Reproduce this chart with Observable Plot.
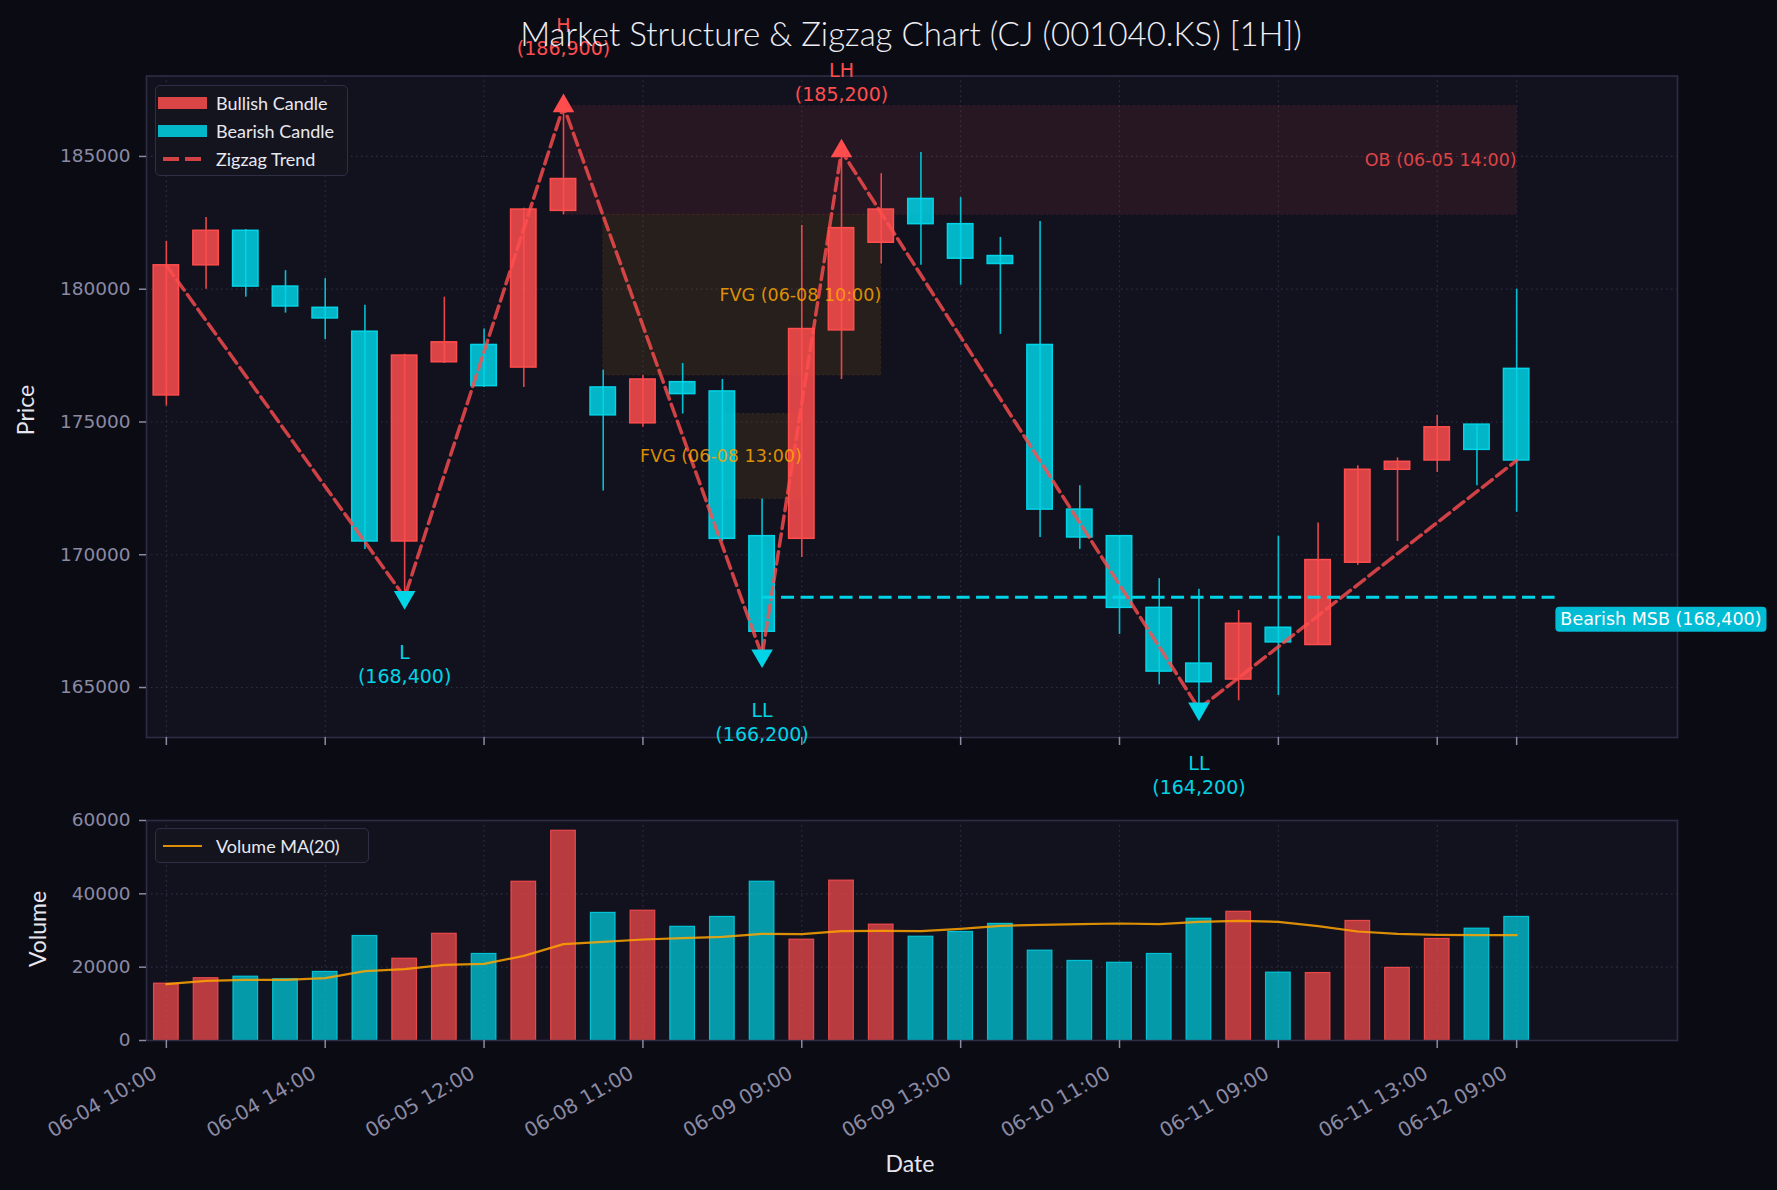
<!DOCTYPE html>
<html><head><meta charset="utf-8">
<script src="https://cdn.jsdelivr.net/npm/d3@7"></script>
<script src="https://cdn.jsdelivr.net/npm/@observablehq/plot@0.6"></script>
<style>
html,body{margin:0;padding:0;background:#0b0b14;overflow:hidden;}
#wrap{position:relative;width:1777px;height:1190px;background:#0b0b14;overflow:hidden;}
#wrap > *{position:absolute;}
.title{left:0;width:1822px;top:13px;text-align:center;font-family:Lato,sans-serif;font-weight:300;font-size:33px;color:#eeeef4;white-space:nowrap;}
.axlab{font-family:Lato,sans-serif;font-size:23px;color:#e6e6ee;white-space:nowrap;transform:translate(-50%,-50%);}
.legend{border:1.5px solid #2e2e46;border-radius:5px;background:#14141f;font-family:Lato,sans-serif;font-size:18px;color:#e8e8f0;box-sizing:border-box;}
.legend .row{position:absolute;left:60px;white-space:nowrap;transform:translateY(-50%);}
.legend .sw{position:absolute;}
</style></head>
<body><div id="wrap"></div>
<script>
// ---------- data ----------
const tickIdx    = [0, 4, 8, 12, 16, 20, 24, 28, 32, 34];
const tickLabels = ["06-04 10:00","06-04 14:00","06-05 12:00","06-08 11:00","06-09 09:00","06-09 13:00","06-10 11:00","06-11 09:00","06-11 13:00","06-12 09:00"];
const open  = [176000,180900,182200,180100,179300,178400,170500,177250,177900,177050,182950,176300,174950,176500,176150,170700,170600,178450,181750,183400,182450,181250,177900,171700,170700,168000,165900,165300,167250,166600,169700,173200,173550,174900,177000];
const high  = [181800,182700,182250,180700,180400,179400,177550,179700,178500,183050,186900,176950,176750,177200,176600,172100,182400,185200,184350,185150,183450,181950,182550,172600,170700,169100,168700,167900,170700,171200,173350,173650,175250,174900,180000];
const low   = [175600,180000,179700,179100,178100,170200,168400,177200,176300,176300,182800,172400,174800,175300,170500,166200,169900,176600,180950,180900,180150,178300,170650,170200,167000,165100,164200,164500,164700,166600,169600,170500,173100,172600,171600];
const close = [180900,182200,180100,179350,178900,170500,177500,178000,176350,183000,184150,175250,176600,176050,170600,167100,178500,182300,183000,182450,181150,180950,171700,170650,168000,165600,165200,167400,166700,169800,173200,173500,174800,173950,173550];
const volume = [15500,17000,17400,16700,18700,28500,22300,29100,23600,43300,57200,34800,35400,31000,33700,43300,27500,43600,31600,28300,29600,31800,24500,21700,21200,23600,33200,35100,18500,18400,32600,19800,27700,30500,33700];
const volumeMA = [15360,16270,16550,16550,17000,18900,19450,20640,20910,23090,26270,26910,27550,27910,28270,29090,29000,29820,29910,29820,30450,31270,31550,31730,31910,31730,32360,32640,32360,31180,29730,29090,28820,28730,28730];

const zigIdx   = [0, 6, 10, 15, 17, 26, 34];
const zigPrice = [180900, 168400, 186900, 166200, 185200, 164200, 173550];

const swingIdx   = [6, 10, 15, 17, 26];
const swingPrice = [168400, 186900, 166200, 185200, 164200];
const swingLabel = ["L", "H", "LL", "LH", "LL"];
const swingHigh  = [false, true, false, true, false];

const zoneLabel  = ["OB (06-05 14:00)", "FVG (06-08 10:00)", "FVG (06-08 13:00)"];
const zoneKind   = ["OB", "FVG", "FVG"];
const zoneStart  = [10, 11, 14];
const zoneEnd    = [34, 18, 16];
const zoneTop    = [186900, 182800, 175300];
const zoneBottom = [182800, 176750, 172100];

const msbPrice = [168400];
const msbStart = [15];
const msbEnd   = [35];
const msbLabel = ["Bearish MSB"];

const priceTicks  = [165000, 170000, 175000, 180000, 185000];
const volumeTicks = [0, 20000, 40000, 60000];

// ---------- styling ----------
const UP = "#ff4d4d", DOWN = "#00d4e6", ORANGE = "#ffa500";
const BG_PLOT = "#12121f", FRAME = "#2d2d45", GRID = "#2e2e44", TICK = "#8a8aa3";
const TICKFONT = "DejaVu Sans, sans-serif";
const fmt = d3.format(",");

const candles = close.map((c, i) => ({i, o: open[i], h: high[i], l: low[i], c, up: c >= open[i], v: volume[i], ma: volumeMA[i]}));
const zig = zigIdx.map((x, k) => ({x, y: zigPrice[k]}));
const swings = swingIdx.map((x, k) => ({x, y: swingPrice[k], label: swingLabel[k], hi: swingHigh[k]}));
const zones = zoneLabel.map((t, k) => ({t, kind: zoneKind[k], x1: zoneStart[k], x2: zoneEnd[k], y1: zoneBottom[k], y2: zoneTop[k]}));
const msb = msbPrice.map((p, k) => ({p, x1: msbStart[k], x2: msbEnd[k], t: `${msbLabel[k]} (${fmt(p)})`}));

const xDomain = [-0.5, 38.05];
const downTriangle = {draw(ctx, size) {
  const y = Math.sqrt(size / (Math.sqrt(3) * 3));
  ctx.moveTo(0, y * 2); ctx.lineTo(-Math.sqrt(3) * y, -y); ctx.lineTo(Math.sqrt(3) * y, -y); ctx.closePath();
}};
const colorOf = d => d.up ? UP : DOWN;

const main = Plot.plot({
  width: 1777, height: 800,
  marginLeft: 146, marginRight: 100, marginTop: 75.5, marginBottom: 63,
  style: {background: "transparent", fontFamily: TICKFONT, fontSize: "18px", color: TICK, overflow: "visible"},
  x: {domain: xDomain, axis: null, label: null},
  y: {domain: [163117, 188030], axis: null, label: null},
  color: {type: "identity"},
  marks: [
    Plot.frame({fill: BG_PLOT, stroke: null}),
    Plot.gridY(priceTicks, {stroke: GRID, strokeOpacity: 1, strokeDasharray: "1.5,3.5", strokeWidth: 1.2}),
    Plot.gridX(tickIdx, {stroke: GRID, strokeOpacity: 1, strokeDasharray: "1.5,3.5", strokeWidth: 1.2}),
    Plot.rect(zones, {x1: "x1", x2: "x2", y1: "y1", y2: "y2",
      fill: d => d.kind === "OB" ? UP : ORANGE, fillOpacity: 0.09,
      stroke: d => d.kind === "OB" ? UP : ORANGE, strokeOpacity: 0.12, strokeDasharray: "2,3"}),
    Plot.rect(candles, {x1: d => d.i - 0.32, x2: d => d.i + 0.32, y1: "o", y2: "c",
      fill: colorOf, fillOpacity: 0.85, stroke: colorOf, strokeWidth: 1.5}),
    Plot.ruleX(candles, {x: "i", y1: "l", y2: "h", stroke: colorOf, strokeWidth: 1.6, strokeOpacity: 0.9}),
    Plot.line(zig, {x: "x", y: "y", stroke: UP, strokeOpacity: 0.8, strokeWidth: 3.5, strokeDasharray: "12.5,5.5"}),
    Plot.ruleY(msb, {y: "p", x1: "x1", x2: "x2", stroke: DOWN, strokeWidth: 3, strokeDasharray: "13,6.5"}),
    Plot.frame({stroke: FRAME, strokeWidth: 1.6}),
    Plot.dot(swings.filter(d => d.hi), {x: "x", y: "y", symbol: "triangle", r: 8, fill: UP, stroke: null}),
    Plot.dot(swings.filter(d => !d.hi), {x: "x", y: "y", symbol: downTriangle, r: 8, fill: DOWN, stroke: null}),
    Plot.text(swings.filter(d => d.hi), {x: "x", y: "y", text: d => `${d.label}\n(${fmt(d.y)})`,
      fill: UP, fontSize: 19, lineHeight: 1.25, lineAnchor: "middle", dy: -70}),
    Plot.text(swings.filter(d => !d.hi), {x: "x", y: "y", text: d => `${d.label}\n(${fmt(d.y)})`,
      fill: DOWN, fontSize: 19, lineHeight: 1.25, lineAnchor: "middle", dy: 66}),
    Plot.text(zones, {x: "x2", y: d => (d.y1 + d.y2) / 2, text: "t", textAnchor: "end",
      fill: d => d.kind === "OB" ? UP : ORANGE, fillOpacity: 0.85, fontSize: 17.5}),
    Plot.text(msb, {x: "x2", y: "p", text: "t", textAnchor: "start", dx: 4, dy: 22.5, fill: "white", fontSize: 17.5}),
    Plot.axisY(priceTicks, {tickSize: 7, tickPadding: 9, color: TICK, fontSize: 18.5, tickFormat: d => String(d), strokeWidth: 1.5, label: null}),
    Plot.axisX(tickIdx, {tickSize: 8, tickFormat: () => "", color: TICK, strokeWidth: 1.5, label: null})
  ]
});

const vol = Plot.plot({
  width: 1777, height: 390,
  marginLeft: 146, marginRight: 100, marginTop: 20, marginBottom: 150,
  style: {background: "transparent", fontFamily: TICKFONT, fontSize: "18px", color: TICK, overflow: "visible"},
  x: {domain: xDomain, axis: null, label: null},
  y: {domain: [0, 60000], axis: null, label: null},
  color: {type: "identity"},
  marks: [
    Plot.frame({fill: BG_PLOT, stroke: null}),
    Plot.gridY(volumeTicks, {stroke: GRID, strokeOpacity: 1, strokeDasharray: "1.5,3.5", strokeWidth: 1.2}),
    Plot.gridX(tickIdx, {stroke: GRID, strokeOpacity: 1, strokeDasharray: "1.5,3.5", strokeWidth: 1.2}),
    Plot.rect(candles, {x1: d => d.i - 0.31, x2: d => d.i + 0.31, y1: 0, y2: "v",
      fill: colorOf, fillOpacity: 0.7, stroke: colorOf, strokeOpacity: 0.85, strokeWidth: 1.2}),
    Plot.line(candles, {x: "i", y: "ma", stroke: ORANGE, strokeOpacity: 0.85, strokeWidth: 2.2}),
    Plot.frame({stroke: FRAME, strokeWidth: 1.6}),
    Plot.axisY(volumeTicks, {tickSize: 7, tickPadding: 9, color: TICK, fontSize: 18.5, tickFormat: d => String(d), strokeWidth: 1.5, label: null}),
    Plot.axisX(tickIdx, {tickSize: 8, tickFormat: () => "", color: TICK, strokeWidth: 1.5, label: null}),
    Plot.axisX(tickIdx, {tickSize: 0, tickPadding: 31, dx: -11, tickRotate: -30, color: TICK, fontSize: 20,
      tickFormat: i => tickLabels[tickIdx.indexOf(i)], label: null})
  ]
});

const wrap = document.getElementById("wrap");
main.style.left = "0px"; main.style.top = "0px";
vol.style.left = "0px"; vol.style.top = "800px";
wrap.appendChild(main);
wrap.appendChild(vol);

// label box behind the MSB text
main.querySelectorAll("text").forEach(t => {
  if (t.textContent.startsWith("Bearish MSB")) {
    const b = t.getBBox();
    const r = document.createElementNS("http://www.w3.org/2000/svg", "rect");
    r.setAttribute("x", b.x - 5); r.setAttribute("y", b.y - 2.5);
    r.setAttribute("width", b.width + 10); r.setAttribute("height", b.height + 5);
    r.setAttribute("rx", 4); r.setAttribute("fill", "#00bcd4");
    const tr = t.getAttribute("transform");
    if (tr) r.setAttribute("transform", tr);
    t.parentNode.insertBefore(r, t);
  }
});

function html(cls, text, style) {
  const d = document.createElement("div");
  d.className = cls; d.textContent = text || ""; Object.assign(d.style, style || {});
  wrap.appendChild(d); return d;
}
html("title", "Market Structure & Zigzag Chart (CJ (001040.KS) [1H])");
html("axlab", "Price", {left: "25px", top: "410px", transform: "translate(-50%,-50%) rotate(-90deg)"});
html("axlab", "Volume", {left: "37px", top: "929px", transform: "translate(-50%,-50%) rotate(-90deg)"});
html("axlab", "Date", {left: "910px", top: "1163px"});

// legends
const lg = html("legend", "", {left: "155px", top: "85px", width: "193px", height: "91px"});
[["Bullish Candle", "patch", UP], ["Bearish Candle", "patch", DOWN], ["Zigzag Trend", "dash", UP]].forEach(([t, kind, c], k) => {
  const cy = 17 + k * 28;
  const sw = document.createElement("div"); sw.className = "sw";
  if (kind === "patch") Object.assign(sw.style, {left: "2px", top: (cy - 6) + "px", width: "49px", height: "12px", background: c, opacity: 0.85});
  else Object.assign(sw.style, {left: "7px", top: (cy - 2) + "px", width: "38px", height: "4px",
    background: `repeating-linear-gradient(90deg, ${c} 0px, ${c} 16px, transparent 16px, transparent 22px)`, opacity: 0.8});
  lg.appendChild(sw);
  const row = document.createElement("div"); row.className = "row"; row.textContent = t; row.style.top = cy + "px";
  lg.appendChild(row);
});
const lg2 = html("legend", "", {left: "155px", top: "828px", width: "214px", height: "35px"});
const ln = document.createElement("div"); ln.className = "sw";
Object.assign(ln.style, {left: "7px", top: "15.5px", width: "39px", height: "2.5px", background: ORANGE, opacity: 0.85});
lg2.appendChild(ln);
const r2 = document.createElement("div"); r2.className = "row"; r2.textContent = "Volume MA(20)"; r2.style.top = "17px";
lg2.appendChild(r2);
</script>
</body></html>
